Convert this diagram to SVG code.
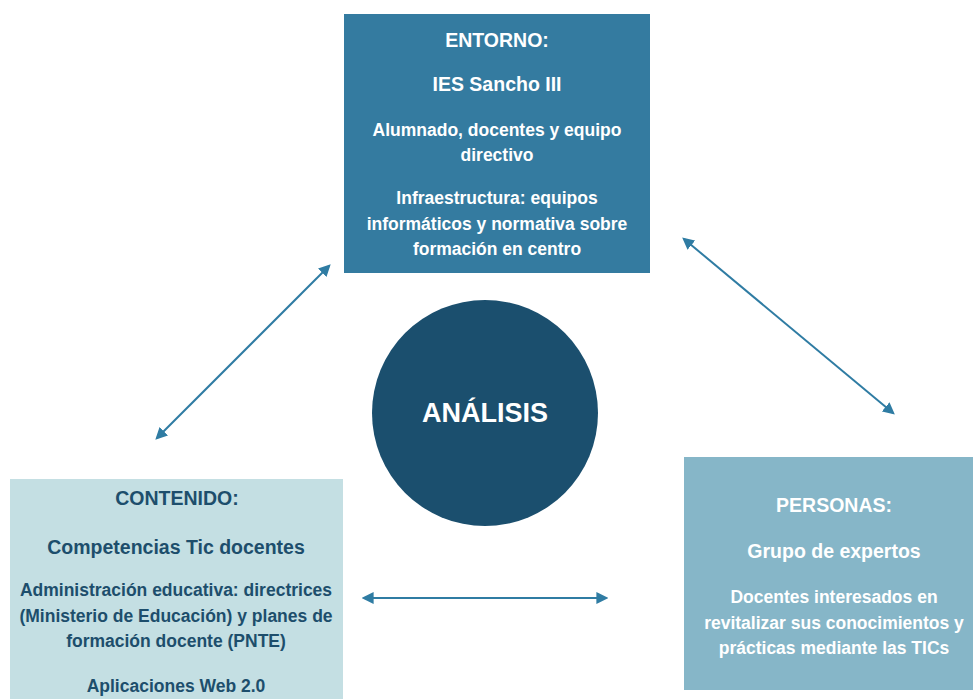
<svg xmlns="http://www.w3.org/2000/svg" width="973" height="699" viewBox="0 0 973 699">
<defs>
<style>
text{font-family:"Liberation Sans",Arial,sans-serif;font-weight:bold;text-anchor:middle}
.w{fill:#ffffff}
.d{fill:#1d4e6c}
.h{font-size:19.5px}
.s{font-size:19.5px}
.b{font-size:17.5px}
.conn{stroke:#2f7ca3;stroke-width:2;fill:none;marker-start:url(#ah);marker-end:url(#ah)}
</style>
<marker id="ah" viewBox="0 0 10 10" refX="8" refY="5" markerWidth="6" markerHeight="6" orient="auto-start-reverse" markerUnits="strokeWidth">
<path d="M0,0 L10,5 L0,10 Z" fill="#2f7ca3"/>
</marker>
</defs>
<rect width="973" height="699" fill="#ffffff"/>
<g id="connectors">
<line class="conn" x1="157" y1="438" x2="329" y2="266"/>
<line class="conn" x1="684" y1="239" x2="893" y2="413"/>
<line class="conn" x1="364" y1="598" x2="606" y2="598"/>
</g>
<g id="entorno">
<rect x="344" y="14" width="306" height="259" fill="#347ba0"/>
<text class="w h" x="497" y="47">ENTORNO:</text>
<text class="w s" x="497" y="91">IES Sancho III</text>
<text class="w b" x="497" y="136">Alumnado, docentes y equipo</text>
<text class="w b" x="497" y="161">directivo</text>
<text class="w b" x="497" y="204">Infraestructura: equipos</text>
<text class="w b" x="497" y="230">informáticos y normativa sobre</text>
<text class="w b" x="497" y="255">formación en centro</text>
</g>
<g id="analisis">
<circle cx="485" cy="413" r="113" fill="#1b4f6e"/>
<text class="w" x="485" y="422" style="font-size:27px">ANÁLISIS</text>
</g>
<g id="contenido">
<rect x="10" y="479" width="333" height="220" fill="#c4dfe3"/>
<text class="d h" x="177" y="505">CONTENIDO:</text>
<text class="d s" x="176" y="554">Competencias Tic docentes</text>
<text class="d b" x="176" y="596">Administración educativa: directrices</text>
<text class="d b" x="176" y="622">(Ministerio de Educación) y planes de</text>
<text class="d b" x="176" y="647">formación docente (PNTE)</text>
<text class="d b" x="176" y="692">Aplicaciones Web 2.0</text>
</g>
<g id="personas">
<rect x="684" y="457" width="289" height="233" fill="#86b6c8"/>
<text class="w h" x="834" y="512">PERSONAS:</text>
<text class="w s" x="834" y="558">Grupo de expertos</text>
<text class="w b" x="834" y="603">Docentes interesados en</text>
<text class="w b" x="834" y="629">revitalizar sus conocimientos y</text>
<text class="w b" x="834" y="654">prácticas mediante las TICs</text>
</g>
</svg>
